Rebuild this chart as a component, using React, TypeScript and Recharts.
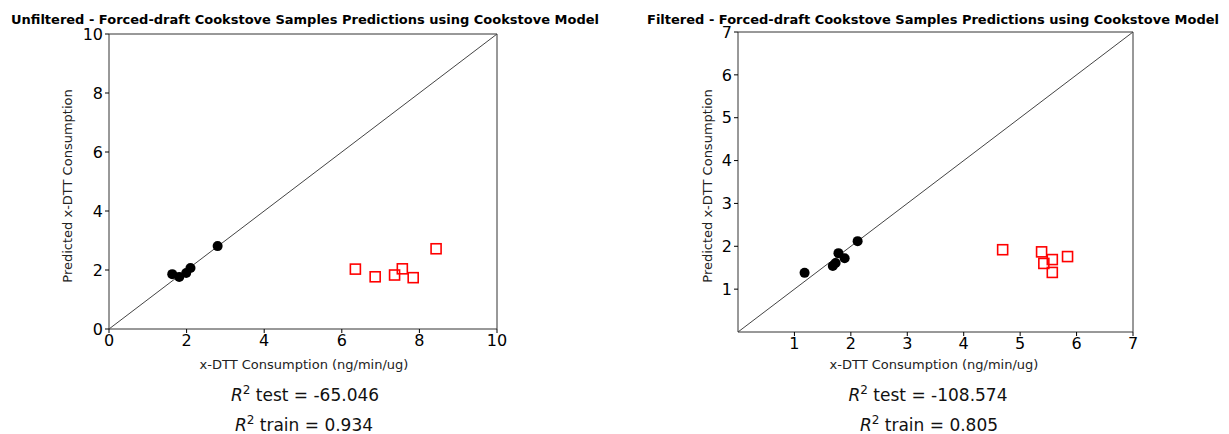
import {
  ScatterChart,
  Scatter,
  XAxis,
  YAxis,
  ReferenceLine,
  ReferenceArea,
} from "recharts";

type Pt = { x: number; y: number };

const unfilteredTrain: Pt[] = [
  { x: 1.63, y: 1.86 },
  { x: 1.81, y: 1.76 },
  { x: 1.99, y: 1.9 },
  { x: 2.1, y: 2.07 },
  { x: 2.8, y: 2.81 },
];
const unfilteredTest: Pt[] = [
  { x: 6.35, y: 2.03 },
  { x: 6.86, y: 1.77 },
  { x: 7.36, y: 1.83 },
  { x: 7.56, y: 2.04 },
  { x: 7.84, y: 1.74 },
  { x: 8.43, y: 2.72 },
];
const filteredTrain: Pt[] = [
  { x: 1.18, y: 1.38 },
  { x: 1.68, y: 1.54 },
  { x: 1.73, y: 1.61 },
  { x: 1.78, y: 1.84 },
  { x: 1.89, y: 1.72 },
  { x: 2.12, y: 2.12 },
];
const filteredTest: Pt[] = [
  { x: 4.69, y: 1.92 },
  { x: 5.38, y: 1.87 },
  { x: 5.57, y: 1.69 },
  { x: 5.42, y: 1.6 },
  { x: 5.57, y: 1.39 },
  { x: 5.84, y: 1.76 },
];

const unfilteredTicks = [0, 2, 4, 6, 8, 10];
const filteredTicks = [1, 2, 3, 4, 5, 6, 7];

const FONT = "DejaVu Sans, sans-serif";

const Dot = (props: any) => <circle cx={props.cx} cy={props.cy} r={5} fill="#000" />;
const Square = (props: any) => (
  <rect
    x={props.cx - 5}
    y={props.cy - 5}
    width={10}
    height={10}
    fill="none"
    stroke="#ff0000"
    strokeWidth={1.6}
  />
);

interface PanelProps {
  left: number;
  width: number;
  margin: { top: number; right: number; bottom: number; left: number };
  max: number;
  ticks: number[];
  train: Pt[];
  test: Pt[];
}

function Panel({ left, width, margin, max, ticks, train, test }: PanelProps) {
  const tickStyle = { fontSize: 16, fill: "#000", fontFamily: FONT };
  return (
    <div style={{ position: "absolute", left, top: 0 }}>
      <ScatterChart width={width} height={434} margin={margin}>
        <XAxis
          type="number"
          dataKey="x"
          domain={[0, max]}
          ticks={ticks}
          height={30}
          axisLine={false}
          tickSize={4}
          tickLine={{ stroke: "#000" }}
          tick={tickStyle}
          allowDataOverflow
        />
        <YAxis
          type="number"
          dataKey="y"
          domain={[0, max]}
          ticks={ticks}
          width={45}
          axisLine={false}
          tickSize={4}
          tickLine={{ stroke: "#000" }}
          tick={tickStyle}
          allowDataOverflow
        />
        <ReferenceArea x1={0} x2={max} y1={0} y2={max} fill="none" stroke="#333" strokeWidth={1} />
        <ReferenceLine
          segment={[
            { x: 0, y: 0 },
            { x: max, y: max },
          ]}
          stroke="#444"
          strokeWidth={1}
        />
        <Scatter data={train} shape={Dot} isAnimationActive={false} />
        <Scatter data={test} shape={Square} isAnimationActive={false} />
      </ScatterChart>
    </div>
  );
}

function R2({ x, y, label, value }: { x: number; y: number; label: string; value: string }) {
  return (
    <text x={x} y={y} textAnchor="middle" fontSize={17} fontFamily={FONT} fill="#111">
      <tspan fontStyle="italic">R</tspan>
      <tspan fontSize={12} dy={-7}>2</tspan>
      <tspan dy={7}>{` ${label} = ${value}`}</tspan>
    </text>
  );
}

export default function App() {
  return (
    <div style={{ position: "absolute", left: 0, top: 0, width: 1229, height: 434, background: "#fff" }}>
      <Panel
        left={0}
        width={620}
        margin={{ top: 34, right: 123, bottom: 75, left: 64 }}
        max={10}
        ticks={unfilteredTicks}
        train={unfilteredTrain}
        test={unfilteredTest}
      />
      <Panel
        left={620}
        width={609}
        margin={{ top: 32, right: 96, bottom: 72, left: 73 }}
        max={7}
        ticks={filteredTicks}
        train={filteredTrain}
        test={filteredTest}
      />
      <svg
        width={1229}
        height={434}
        style={{ position: "absolute", left: 0, top: 0, pointerEvents: "none" }}
      >
        <text x={305} y={24} textAnchor="middle" fontSize={13} fontWeight="bold" fontFamily={FONT} fill="#000">
          Unfiltered - Forced-draft Cookstove Samples Predictions using Cookstove Model
        </text>
        <text x={933} y={24} textAnchor="middle" fontSize={13} fontWeight="bold" fontFamily={FONT} fill="#000">
          Filtered - Forced-draft Cookstove Samples Predictions using Cookstove Model
        </text>
        <text x={304} y={369} textAnchor="middle" fontSize={13} fontFamily={FONT} fill="#222">
          x-DTT Consumption (ng/min/ug)
        </text>
        <text x={934} y={369} textAnchor="middle" fontSize={13} fontFamily={FONT} fill="#222">
          x-DTT Consumption (ng/min/ug)
        </text>
        <text
          x={72}
          y={186}
          textAnchor="middle"
          fontSize={13}
          fontFamily={FONT}
          fill="#222"
          transform="rotate(-90 72 186)"
        >
          Predicted x-DTT Consumption
        </text>
        <text
          x={712}
          y={186}
          textAnchor="middle"
          fontSize={13}
          fontFamily={FONT}
          fill="#222"
          transform="rotate(-90 712 186)"
        >
          Predicted x-DTT Consumption
        </text>
        <R2 x={305} y={401} label="test" value="-65.046" />
        <R2 x={304} y={431} label="train" value="0.934" />
        <R2 x={928} y={401} label="test" value="-108.574" />
        <R2 x={929} y={431} label="train" value="0.805" />
      </svg>
    </div>
  );
}
